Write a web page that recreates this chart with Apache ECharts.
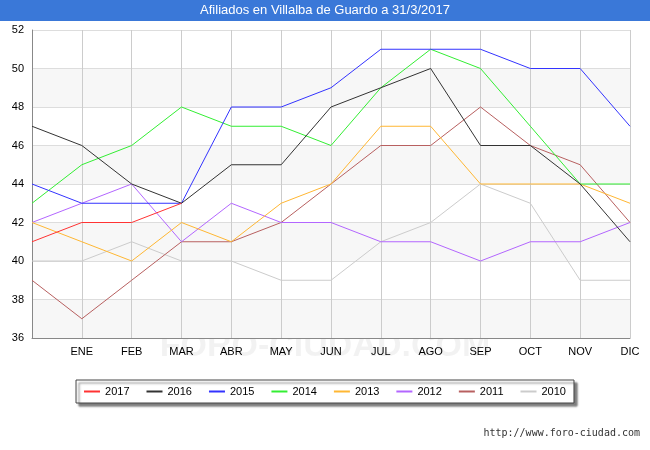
<!DOCTYPE html>
<html><head><meta charset="utf-8">
<script src="https://cdn.jsdelivr.net/npm/echarts@6/dist/echarts.min.js"></script>
<style>body{margin:0}#c{width:650px;height:450px}</style></head>
<body><div id="c"></div>
<script>
var categories = ["", "ENE", "FEB", "MAR", "ABR", "MAY", "JUN", "JUL", "AGO", "SEP", "OCT", "NOV", "DIC"];
var names = ["2017", "2016", "2015", "2014", "2013", "2012", "2011", "2010"];
var colors = ["#ff3333", "#333333", "#3333ff", "#33ee33", "#ffb733", "#b366ff", "#b86060", "#cccccc"];
var s2017 = [41, 42, 42, 43];
var s2016 = [47, 46, 44, 43, 45, 45, 48, 49, 50, 46, 46, 44, 41];
var s2015 = [44, 43, 43, 43, 48, 48, 49, 51, 51, 51, 50, 50, 47];
var s2014 = [43, 45, 46, 48, 47, 47, 46, 49, 51, 50, 47, 44, 44];
var s2013 = [42, 41, 40, 42, 41, 43, 44, 47, 47, 44, 44, 44, 43];
var s2012 = [42, 43, 44, 41, 43, 42, 42, 41, 41, 40, 41, 41, 42];
var s2011 = [39, 37, 39, 41, 41, 42, 44, 46, 46, 48, 46, 45, 42];
var s2010 = [40, 40, 41, 40, 40, 39, 39, 41, 42, 44, 43, 39, 39];
var data = [s2017, s2016, s2015, s2014, s2013, s2012, s2011, s2010];
var chart = echarts.init(document.getElementById('c'));
chart.setOption({
  animation: false,
  graphic: [
    {type: 'rect', left: 0, top: 0, shape: {width: 650, height: 21}, style: {fill: '#3a78d8'}},
    {type: 'text', left: 'center', top: 4, style: {text: 'Afiliados en Villalba de Guardo a 31/3/2017', fill: '#fff', font: '13px sans-serif'}},
    {type: 'text', right: 10, top: 428, style: {text: 'http://www.foro-ciudad.com', fill: '#333', font: '10px monospace'}},
    {type: 'text', left: 'center', top: 330, style: {text: 'FORO-CIUDAD.COM', fill: 'rgba(0,0,0,0.05)', font: 'bold 34px sans-serif'}}
  ],
  grid: {left: 32, right: 20, top: 30, bottom: 112},
  legend: {
    top: 380, left: 'center', itemWidth: 16, itemHeight: 2, itemGap: 17,
    icon: 'rect', borderColor: '#444', borderWidth: 1, padding: [6, 8],
    shadowColor: 'rgba(0,0,0,0.5)', shadowOffsetX: 3, shadowOffsetY: 3, shadowBlur: 2,
    backgroundColor: '#fff', textStyle: {fontSize: 11, color: '#000'}, data: names
  },
  xAxis: {type: 'category', boundaryGap: false, data: categories,
    axisLine: {lineStyle: {color: '#888'}}, axisTick: {show: false},
    axisLabel: {color: '#000', fontSize: 11},
    splitLine: {show: true, lineStyle: {color: '#ccc'}}},
  yAxis: {type: 'value', min: 36, max: 52, interval: 2,
    axisLine: {show: true, lineStyle: {color: '#888'}}, axisTick: {show: false},
    axisLabel: {color: '#000', fontSize: 11},
    splitLine: {lineStyle: {color: '#ddd'}},
    splitArea: {show: true, areaStyle: {color: ['#f7f7f7', '#fff']}}},
  series: names.map(function (n, i) {
    return {name: n, type: 'line', data: data[i], symbol: 'none', color: colors[i], lineStyle: {width: 1}, z: 10 - i};
  })
});
</script></body></html>
